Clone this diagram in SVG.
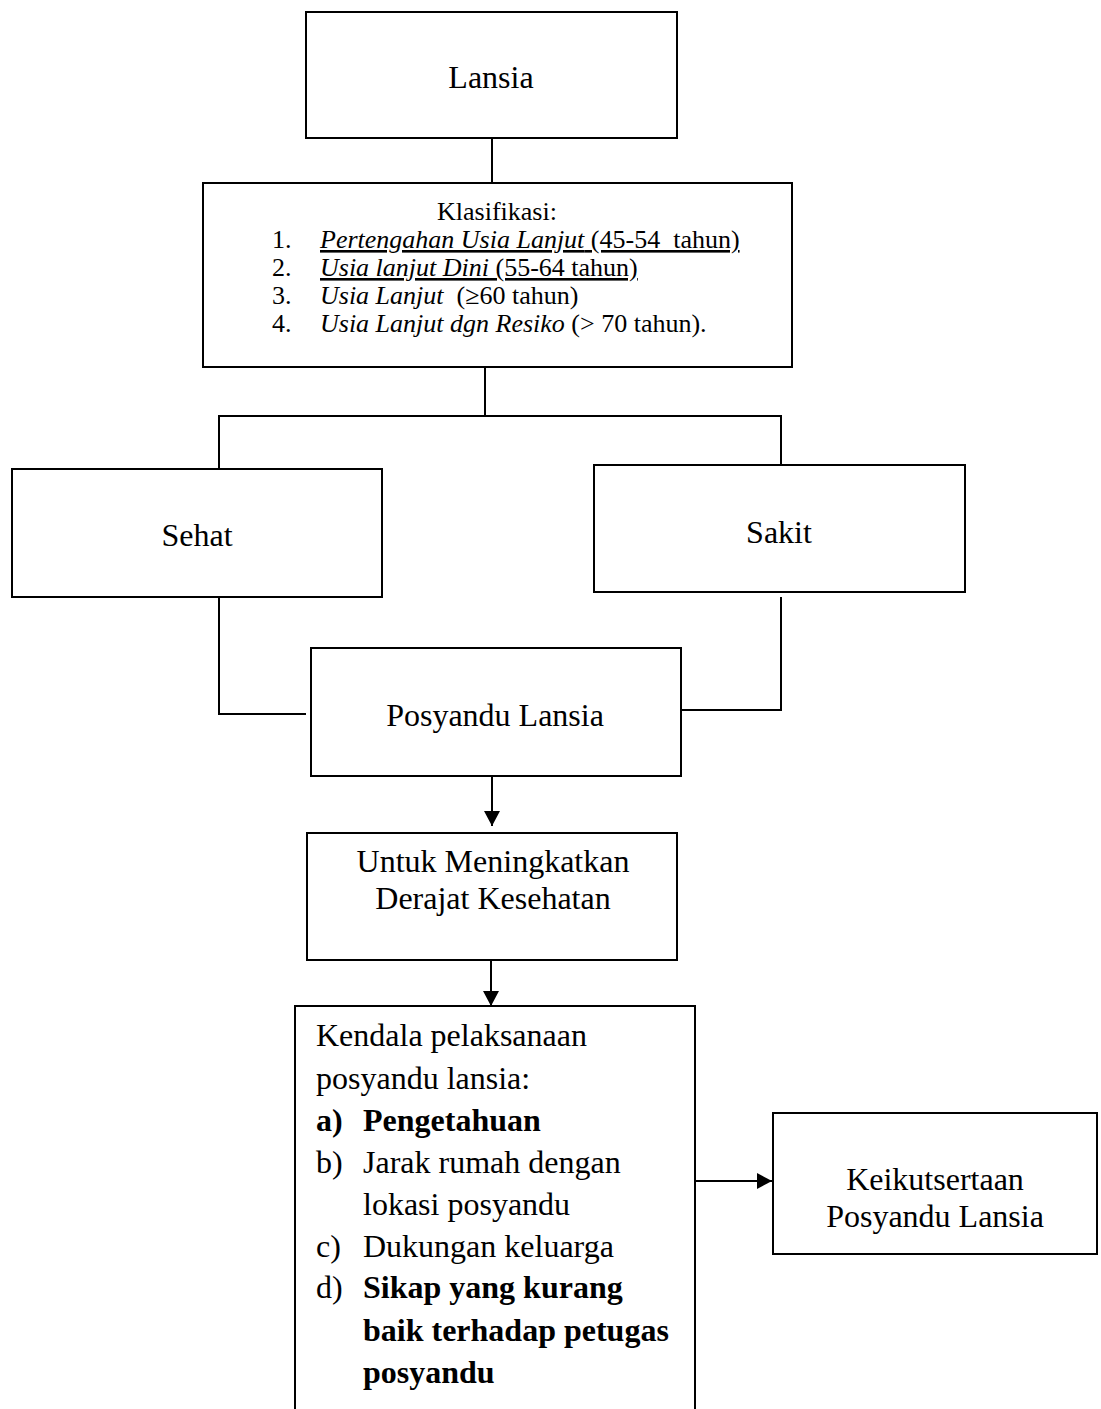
<svg xmlns="http://www.w3.org/2000/svg" width="1101" height="1409" viewBox="0 0 1101 1409">
<style>
.box{fill:#fff;stroke:#000;stroke-width:2}
.ln{fill:none;stroke:#000;stroke-width:2}
text{font-family:"Liberation Serif","Times New Roman",serif;fill:#000}
.big{font-size:32px}
.sm{font-size:26px}
.c{text-anchor:middle}
.b{font-weight:bold}
</style>
<defs>
<marker id="ah" markerWidth="15" markerHeight="16" refX="15" refY="8" orient="auto" markerUnits="userSpaceOnUse" viewBox="0 0 15 16">
<path d="M0,0 L15,8 L0,16 z" fill="#000"/>
</marker>
</defs>
<rect width="1101" height="1409" fill="#fff"/>
<g id="connectors">
<line class="ln" x1="492" y1="138" x2="492" y2="183"/>
<line class="ln" x1="485" y1="367" x2="485" y2="416"/>
<polyline class="ln" points="219,469 219,416 781,416 781,465"/>
<polyline class="ln" points="219,597 219,714 306,714"/>
<polyline class="ln" points="781,597 781,710 681,710"/>
<line class="ln" x1="492" y1="776" x2="492" y2="826" marker-end="url(#ah)"/>
<line class="ln" x1="491" y1="960" x2="491" y2="1006" marker-end="url(#ah)"/>
<line class="ln" x1="695" y1="1181" x2="772" y2="1181" marker-end="url(#ah)"/>
</g>
<g id="lansia">
<rect class="box" x="306" y="12" width="371" height="126"/>
<text class="big c" x="491" y="88">Lansia</text>
</g>
<g id="klasifikasi">
<rect class="box" x="203" y="183" width="589" height="184"/>
<text class="sm c" x="497" y="220">Klasifikasi:</text>
<text class="sm" x="272" y="248">1.</text>
<text class="sm" x="320" y="248" text-decoration="underline" xml:space="preserve"><tspan font-style="italic">Pertengahan Usia Lanjut</tspan> (45-54  tahun)</text>
<text class="sm" x="272" y="276">2.</text>
<text class="sm" x="320" y="276" text-decoration="underline"><tspan font-style="italic">Usia lanjut Dini</tspan> (55-64 tahun)</text>
<text class="sm" x="272" y="304">3.</text>
<text class="sm" x="320" y="304" xml:space="preserve"><tspan font-style="italic">Usia Lanjut</tspan>  (≥60 tahun)</text>
<text class="sm" x="272" y="332">4.</text>
<text class="sm" x="320" y="332"><tspan font-style="italic">Usia Lanjut dgn Resiko</tspan> (&gt; 70 tahun).</text>
</g>
<g id="sehat">
<rect class="box" x="12" y="469" width="370" height="128"/>
<text class="big c" x="197" y="546">Sehat</text>
</g>
<g id="sakit">
<rect class="box" x="594" y="465" width="371" height="127"/>
<text class="big c" x="779" y="543">Sakit</text>
</g>
<g id="posyandu">
<rect class="box" x="311" y="648" width="370" height="128"/>
<text class="big c" x="495" y="726">Posyandu Lansia</text>
</g>
<g id="untuk">
<rect class="box" x="307" y="833" width="370" height="127"/>
<text class="big c" x="493" y="872">Untuk Meningkatkan</text>
<text class="big c" x="493" y="909">Derajat Kesehatan</text>
</g>
<g id="kendala">
<path class="ln" d="M295,1420 V1006 H695 V1420"/>
<text class="big" x="316" y="1046">Kendala pelaksanaan</text>
<text class="big" x="316" y="1089">posyandu lansia:</text>
<text class="big b" x="316" y="1131">a)</text>
<text class="big b" x="363" y="1131">Pengetahuan</text>
<text class="big" x="316" y="1173">b)</text>
<text class="big" x="363" y="1173">Jarak rumah dengan</text>
<text class="big" x="363" y="1215">lokasi posyandu</text>
<text class="big" x="316" y="1257">c)</text>
<text class="big" x="363" y="1257">Dukungan keluarga</text>
<text class="big" x="316" y="1298">d)</text>
<text class="big b" x="363" y="1298">Sikap yang kurang</text>
<text class="big b" x="363" y="1341">baik terhadap petugas</text>
<text class="big b" x="363" y="1383">posyandu</text>
</g>
<g id="keikutsertaan">
<rect class="box" x="773" y="1113" width="324" height="141"/>
<text class="big c" x="935" y="1190">Keikutsertaan</text>
<text class="big c" x="935" y="1227">Posyandu Lansia</text>
</g>
</svg>
